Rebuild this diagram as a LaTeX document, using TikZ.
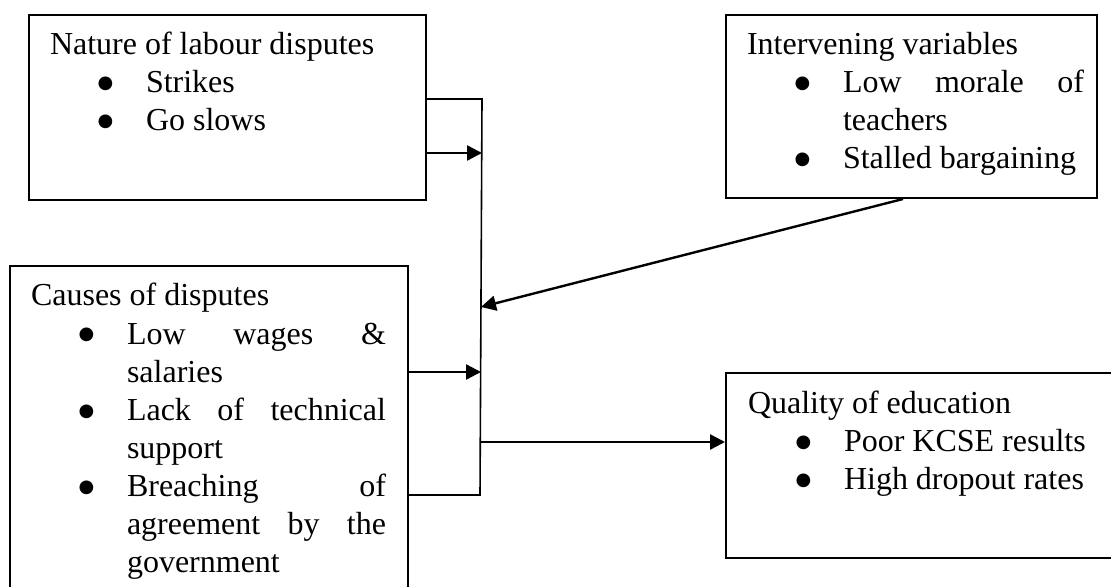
\documentclass[tikz,border=0pt]{standalone}
\usepackage{fontspec}
\setmainfont{Liberation Serif}
\newfontfamily\dotfont{DejaVu Sans}
\usepackage{tikz}
\usetikzlibrary{positioning, calc, arrows.meta}

% text inside the boxes
\newcommand{\boxtext}[3]{\parbox[t][#1][t]{#2}{\fontsize{16pt}{19pt}\selectfont\strut #3}}
\newcommand{\bitem}{\hspace*{23.8pt}\makebox[24.2pt][l]{\raisebox{2pt}{\dotfont\fontsize{9pt}{10pt}\selectfont ●}}}
\newcommand{\bcont}{\hspace*{48pt}}
\newcommand{\fillline}[2]{\makebox[#1][s]{#2}}

\begin{document}
\begin{tikzpicture}[x=0.5pt, y=-0.5pt,
        varbox/.style={draw, line width=1pt, anchor=north west, inner xsep=10.5pt, inner ysep=6.7pt},
        link/.style={line width=0.8pt},
        feed/.style={line width=1.2pt, -{Triangle[length=7.5pt, width=7.5pt]}}]
        \path[use as bounding box, clip] (0,0) rectangle (1111,587);

        % the boxes
        \node[varbox] (nature) at (28,14) {\boxtext{79.1pt}{177.5pt}{%
                Nature of labour disputes\\
                \bitem Strikes\\
                \bitem Go slows}};

        \node[varbox] (inter) at (725,14) {\boxtext{78.1pt}{164.5pt}{%
                Intervening variables\\
                \bitem\fillline{120.5pt}{Low morale of}\\
                \bcont teachers\\
                \bitem Stalled bargaining}};

        \node[varbox] (causes) at (9,265) {\boxtext{159.1pt}{178pt}{%
                Causes of disputes\\
                \bitem\fillline{129.5pt}{Low wages \&}\\
                \bcont salaries\\
                \bitem\fillline{129.5pt}{Lack of technical}\\
                \bcont support\\
                \bitem\fillline{129.5pt}{Breaching of}\\
                \bcont\fillline{129.5pt}{agreement by the}\\
                \bcont government}};

        \node[varbox, inner xsep=11pt] (quality) at (725,372) {\boxtext{79.1pt}{178pt}{%
                Quality of education\\
                \bitem Poor KCSE results\\
                \bitem High dropout rates}};

        % points on the joining line
        \coordinate (bustop) at (482,99);
        \coordinate (busbot) at (480,495);
        \coordinate (in1) at (482,153);
        \coordinate (in2) at (481,307);
        \coordinate (in3) at (481,372);
        \coordinate (out) at (481,442);

        % the joining line
        \draw[link] (nature.east |- bustop) -- (bustop) -- (busbot) -- (causes.east |- busbot);

        % arrows into it and out of it
        \draw[feed] (nature.east |- in1) -- (in1);
        \draw[feed] (causes.east |- in3) -- (in3);
        \draw[feed] ([xshift=-4.25pt]inter.south) -- (in2);
        \draw[feed] (out) -- (quality.west |- out);
    \end{tikzpicture}
\end{document}
